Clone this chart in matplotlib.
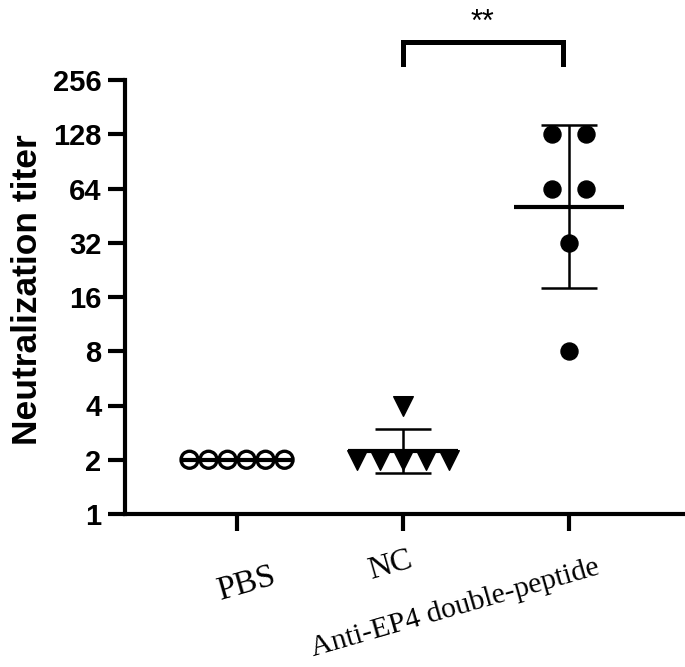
import numpy as np
import matplotlib.pyplot as plt
import matplotlib.transforms as mtransforms

# titer values per group
groups = ['PBS', 'NC', 'Anti-EP4 double-peptide']
pbs = [2, 2, 2, 2, 2, 2]
nc = [2, 2, 2, 2, 2, 4]
anti = [128, 128, 64, 64, 32, 8]
yticks = [1, 2, 4, 8, 16, 32, 64, 128, 256]
sig_label = '**'

data = [pbs, nc, anti]
spread = [0.1145, 0.139, 0.205]   # horizontal spacing of tied points
marker_style = [
    dict(marker='o', s=150, facecolors='none', edgecolors='black', linewidths=2.4),
    dict(marker='v', s=200, color='black'),
    dict(marker='o', s=150, color='black'),
]


def swarm_x(vals, center, step):
    # spread tied values symmetrically around the group center
    vals = np.asarray(vals)
    xs = np.zeros(len(vals))
    for v in np.unique(vals):
        idx = np.where(vals == v)[0]
        n = len(idx)
        xs[idx] = center + (np.arange(n) - (n - 1) / 2) * step
    return xs


fig = plt.figure(figsize=(6.85, 6.67), dpi=100)
ax = fig.add_axes([125 / 685, 1 - 514 / 667, 560 / 685, 434 / 667])

for i, vals in enumerate(data):
    logv = np.log2(vals)
    gm = 2 ** logv.mean()
    sd = logv.std(ddof=1)
    lo, hi = 2 ** (logv.mean() - sd), 2 ** (logv.mean() + sd)
    # geometric mean line and geometric SD error bar
    ax.hlines(gm, i - 0.33, i + 0.33, color='black', lw=3, zorder=2)
    if sd > 0:
        ax.vlines(i, lo, hi, color='black', lw=1.8, zorder=2)
        ax.hlines([lo, hi], i - 0.166, i + 0.166, color='black', lw=1.8, zorder=2)
    ax.scatter(swarm_x(vals, i, spread[i]), vals, zorder=3, clip_on=False,
               **marker_style[i])

ax.set_yscale('log', base=2)
ax.set_ylim(1, 256)
ax.set_xlim(-0.675, 2.699)
ax.set_yticks(yticks)
ax.set_yticklabels([str(t) for t in yticks], fontsize=21, fontweight='bold',
                   family='Liberation Sans')
ax.yaxis.set_minor_locator(plt.NullLocator())
ax.set_xticks(range(len(groups)))
ax.set_xticklabels([''] * len(groups))

ax.spines['top'].set_visible(False)
ax.spines['right'].set_visible(False)
ax.spines['left'].set_linewidth(3)
ax.spines['bottom'].set_linewidth(3)
ax.tick_params(axis='both', width=3, length=12, color='black')
ax.tick_params(axis='y', pad=5)

ax.set_ylabel('Neutralization titer', fontsize=25.5, fontweight='bold',
              family='Liberation Sans', labelpad=6)
ax.yaxis.label.set_y(0.516)

# rotated group names (placed by hand in the original)
offsets = [(7, -50), (-9, -37), (-82, -68)]
sizes = [24, 23, 21.5]
for i, name in enumerate(groups):
    ax.annotate(name, xy=(i, 0), xycoords=('data', 'axes fraction'),
                xytext=offsets[i], textcoords='offset points',
                rotation=16, ha='center', va='center', fontsize=sizes[i],
                family='Liberation Serif', annotation_clip=False)

# significance bracket between NC and Anti-EP4
trans = mtransforms.blended_transform_factory(ax.transData, ax.transAxes)
ax.plot([1.0, 1.0, 1.964, 1.964], [1.037, 1.0876, 1.0876, 1.037],
        color='black', lw=3.6, transform=trans, clip_on=False,
        solid_joinstyle='miter')
ax.text(1.48, 1.113, sig_label, transform=trans, ha='center', va='baseline',
        fontsize=22, family='Liberation Sans')

fig.savefig('out.png', dpi=100)
